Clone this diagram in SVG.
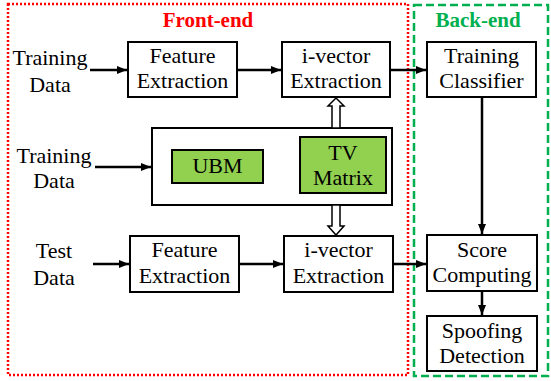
<svg xmlns="http://www.w3.org/2000/svg" width="551" height="381" viewBox="0 0 551 381">
<defs>
<marker id="ah" markerWidth="10" markerHeight="8" refX="10" refY="4" orient="auto" markerUnits="userSpaceOnUse">
<path d="M0,0 L10,4 L0,8 Z" fill="#000"/>
</marker>
<style>
.box{fill:#fff;stroke:#000;stroke-width:2}
.g{fill:#92D050;stroke:#000;stroke-width:2}
.t{font-size:22px;fill:#000;text-anchor:middle}
.c{stroke:#000;stroke-width:2.5;fill:none;marker-end:url(#ah)}
.h{fill:#fff;stroke:#000;stroke-width:1.5}
</style>
</defs>
<rect width="551" height="381" fill="#fff"/>
<g font-family="Liberation Serif, Times New Roman, serif">
<g id="frontend">
<rect x="8" y="4" width="400" height="371" fill="none" stroke="#ff0000" stroke-width="2.5" stroke-dasharray="2 2"/>
<text x="208" y="27" font-size="21" font-weight="bold" fill="#ff0000" text-anchor="middle">Front-end</text>
</g>
<g id="backend">
<rect x="414" y="5" width="134" height="371" fill="none" stroke="#00B050" stroke-width="2.5" stroke-dasharray="8 4"/>
<text x="478" y="27" font-size="21" font-weight="bold" fill="#00B050" text-anchor="middle">Back-end</text>
</g>
<g id="train-data-1"><text class="t" x="50" y="65">Training</text><text class="t" x="50" y="92">Data</text></g>
<g id="train-data-2"><text class="t" x="54" y="163">Training</text><text class="t" x="54" y="188">Data</text></g>
<g id="test-data"><text class="t" x="54" y="258">Test</text><text class="t" x="54" y="285">Data</text></g>
<g id="fe1"><rect class="box" x="128" y="42" width="109" height="55"/><text class="t" x="182.5" y="63">Feature</text><text class="t" x="182.5" y="88">Extraction</text></g>
<g id="iv1"><rect class="box" x="282" y="42" width="108" height="55"/><text class="t" x="336" y="63">i-vector</text><text class="t" x="336" y="88">Extraction</text></g>
<g id="tc"><rect class="box" x="427" y="42" width="109" height="55"/><text class="t" x="481.5" y="63">Training</text><text class="t" x="481.5" y="88">Classifier</text></g>
<g id="model"><rect class="box" x="152" y="128" width="240" height="77"/></g>
<g id="ubm"><rect class="g" x="172" y="150" width="91" height="33"/><text class="t" x="217.5" y="173">UBM</text></g>
<g id="tv"><rect class="g" x="300" y="137" width="86" height="56"/><text class="t" x="343" y="160">TV</text><text class="t" x="343" y="185">Matrix</text></g>
<g id="fe2"><rect class="box" x="130" y="236" width="109" height="56"/><text class="t" x="184.5" y="257">Feature</text><text class="t" x="184.5" y="283">Extraction</text></g>
<g id="iv2"><rect class="box" x="284" y="236" width="109" height="56"/><text class="t" x="338.5" y="257">i-vector</text><text class="t" x="338.5" y="283">Extraction</text></g>
<g id="sc"><rect class="box" x="427" y="235" width="110" height="56"/><text class="t" x="482" y="257">Score</text><text class="t" x="482" y="282">Computing</text></g>
<g id="sd"><rect class="box" x="427" y="316" width="110" height="55"/><text class="t" x="482" y="338">Spoofing</text><text class="t" x="482" y="363">Detection</text></g>
</g>
<g id="connectors">
<line class="c" x1="90" y1="70" x2="127" y2="70"/>
<line class="c" x1="237" y1="70" x2="281" y2="70"/>
<line class="c" x1="390" y1="70" x2="426" y2="70"/>
<line class="c" x1="95" y1="167" x2="151" y2="167"/>
<line class="c" x1="93" y1="264" x2="129" y2="264"/>
<line class="c" x1="239" y1="264" x2="283" y2="264"/>
<line class="c" x1="393" y1="264" x2="426" y2="264"/>
<line class="c" x1="482" y1="97" x2="482" y2="234"/>
<line class="c" x1="482" y1="291" x2="482" y2="315"/>
<path class="h" d="M332,128 L332,106 L328,106 L336,98 L344,106 L340,106 L340,128 Z"/>
<path class="h" d="M332,205 L332,226 L328,226 L336,235 L344,226 L340,226 L340,205 Z"/>
</g>
</svg>
